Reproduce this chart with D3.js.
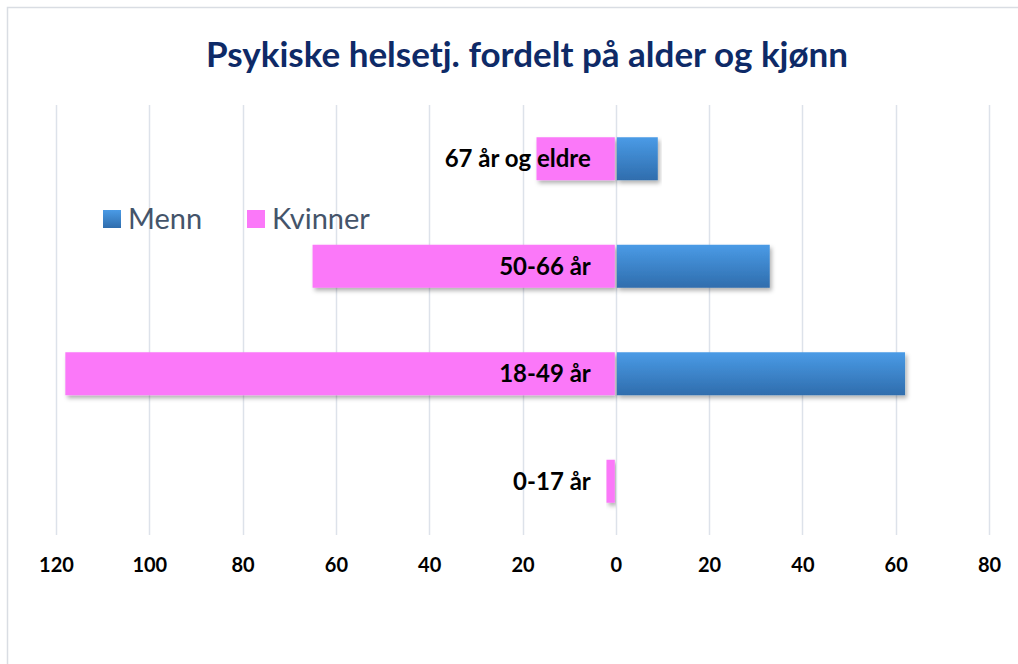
<!DOCTYPE html>
<html>
<head>
<meta charset="utf-8">
<script src="https://cdn.jsdelivr.net/npm/d3@7"></script>
<style>
  body { margin: 0; background: #fff; }
  text { font-family: Lato, "Liberation Sans", sans-serif; }
</style>
</head>
<body>
<div id="chart"></div>
<script>
var width = 1018;
var height = 664;

// data (kvinner drawn to the left)
var categories = ["0-17 år", "18-49 år", "50-66 år", "67 år og eldre"];
var menn = [0, 62, 33, 9];
var kvinner = [2, 118, 65, 17];
var tickValues = [-120, -100, -80, -60, -40, -20, 0, 20, 40, 60, 80];
var seriesNames = ["Menn", "Kvinner"];

var svg = d3.select("#chart")
  .append("svg")
  .attr("width", width)
  .attr("height", height);

var defs = svg.append("defs");
var grad = defs.append("linearGradient")
  .attr("id", "blue")
  .attr("x1", 0).attr("y1", 0).attr("x2", 0).attr("y2", 1);
grad.append("stop").attr("offset", "0%").attr("stop-color", "#4a9be6");
grad.append("stop").attr("offset", "100%").attr("stop-color", "#2f6dad");

var shadow = defs.append("filter")
  .attr("id", "shadow")
  .attr("x", "-5%").attr("y", "-20%")
  .attr("width", "115%").attr("height", "160%");
shadow.append("feDropShadow")
  .attr("dx", 2).attr("dy", 3)
  .attr("stdDeviation", 2)
  .attr("flood-color", "#000")
  .attr("flood-opacity", 0.3);

// chart border
svg.append("rect")
  .attr("x", 7.5).attr("y", 7.5)
  .attr("width", width + 20).attr("height", height + 20)
  .attr("fill", "none")
  .attr("stroke", "#d9dde3")
  .attr("stroke-width", 1.5);

var xScale = d3.scaleLinear().domain([-120, 80]).range([56, 989]);
var yScale = d3.scaleBand()
  .domain(categories.slice().reverse())
  .range([105, 535])
  .paddingInner(0.6)
  .paddingOuter(0.3);

// gridlines
svg.append("g")
  .selectAll("line")
  .data(tickValues)
  .enter()
  .append("line")
  .attr("x1", function (d) { return Math.round(xScale(d)) + 0.5; })
  .attr("x2", function (d) { return Math.round(xScale(d)) + 0.5; })
  .attr("y1", 105)
  .attr("y2", 535)
  .attr("stroke", "#dde2ea")
  .attr("stroke-width", 1.5);

// axis labels
var xAxis = d3.axisBottom(xScale)
  .tickValues(tickValues)
  .tickSize(0)
  .tickPadding(0)
  .tickFormat(function (d) { return Math.abs(d); });

var gx = svg.append("g")
  .attr("transform", "translate(0,558)")
  .call(xAxis);
gx.select(".domain").remove();
gx.selectAll("text")
  .attr("dy", "0.71em")
  .style("font-family", "Lato, sans-serif")
  .style("font-size", "20px")
  .style("font-weight", "bold")
  .attr("fill", "#000");

// kvinner bars
svg.append("g")
  .selectAll("rect")
  .data(categories)
  .enter()
  .append("rect")
  .attr("x", function (d, i) { return xScale(-kvinner[i]); })
  .attr("y", function (d) { return yScale(d); })
  .attr("width", function (d, i) { return xScale(0) - xScale(-kvinner[i]) - 1; })
  .attr("height", yScale.bandwidth())
  .attr("fill", "#fb78f9")
  .attr("filter", "url(#shadow)");

// menn bars
svg.append("g")
  .selectAll("rect")
  .data(categories.filter(function (d, i) { return menn[i] > 0; }))
  .enter()
  .append("rect")
  .attr("x", xScale(0) + 1)
  .attr("y", function (d) { return yScale(d); })
  .attr("width", function (d) { return xScale(menn[categories.indexOf(d)]) - xScale(0) - 1; })
  .attr("height", yScale.bandwidth())
  .attr("fill", "url(#blue)")
  .attr("filter", "url(#shadow)");

// category labels
svg.append("g")
  .selectAll("text")
  .data(categories)
  .enter()
  .append("text")
  .attr("x", xScale(0) - 25)
  .attr("y", function (d) { return yScale(d) + yScale.bandwidth() / 2; })
  .attr("dy", "0.36em")
  .attr("text-anchor", "end")
  .style("font-size", "24px")
  .style("font-weight", "bold")
  .attr("fill", "#000")
  .text(function (d) { return d; });

// title
svg.append("text")
  .attr("x", 527)
  .attr("y", 67)
  .attr("text-anchor", "middle")
  .style("font-size", "35px")
  .style("font-weight", "bold")
  .attr("fill", "#0e2a67")
  .text("Psykiske helsetj. fordelt på alder og kjønn");

// legend
var legendX = [103, 247];
var legendFill = ["url(#blue)", "#fb78f9"];
var legend = svg.append("g")
  .selectAll("g")
  .data(seriesNames)
  .enter()
  .append("g")
  .attr("transform", function (d, i) { return "translate(" + legendX[i] + ",210)"; });
legend.append("rect")
  .attr("width", 18)
  .attr("height", 18)
  .attr("fill", function (d, i) { return legendFill[i]; });
legend.append("text")
  .attr("x", 25)
  .attr("y", 9)
  .attr("dy", "0.36em")
  .style("font-size", "29px")
  .attr("fill", "#44546a")
  .text(function (d) { return d; });
</script>
</body>
</html>
